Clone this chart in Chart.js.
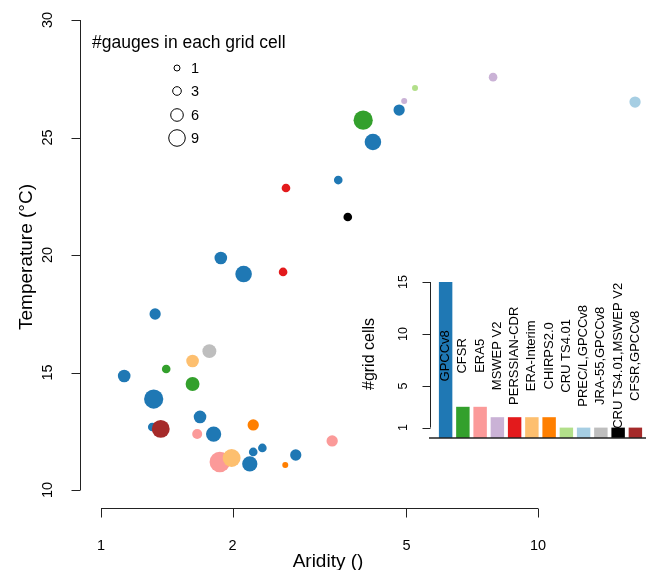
<!DOCTYPE html>
<html>
<head>
<meta charset="utf-8">
<script src="https://cdn.jsdelivr.net/npm/chart.js@4.4.1/dist/chart.umd.min.js"></script>
<style>
  body { margin: 0; background: #fff; }
  #wrap { position: relative; width: 646px; height: 570px; }
  #wrap canvas { position: absolute; left: 0; top: 0; }
</style>
</head>
<body>
<div id="wrap">
  <canvas id="main" width="646" height="570"></canvas>
  <canvas id="inset" width="646" height="570"></canvas>
</div>
<script>
// products, in the order of the inset bars
var products = ["GPCCv8", "CFSR", "ERA5", "MSWEP V2", "PERSSIAN-CDR", "ERA-Interim", "CHIRPS2.0",
  "CRU TS4.01", "PREC/L,GPCCv8", "JRA-55,GPCCv8", "CRU TS4.01,MSWEP V2", "CFSR,GPCCv8"];
var productColors = ["#1F78B4", "#33A02C", "#FB9A99", "#CAB2D6", "#E31A1C", "#FDBF6F", "#FF7F00",
  "#B2DF8A", "#A6CEE3", "#BEBEBE", "#000000", "#A52A2A"];

// one entry per grid cell
var aridity = [4.81, 4.19, 3.49, 1.88, 2.12, 1.33, 1.13, 1.32, 1.685, 1.31, 1.81, 2.23, 2.34, 2.19, 2.79,
  3.98, 1.41, 1.62,
  1.66, 1.87, 3.38,
  7.89, 4.94,
  2.65, 2.61,
  1.62, 1.99,
  2.23, 2.64,
  5.23, 16.67, 1.77, 3.67, 1.37];
var temperature = [26.17, 24.81, 23.19, 19.87, 19.19, 17.49, 14.85, 13.87, 13.11, 12.68, 12.38, 11.62, 11.79, 11.11, 11.49,
  25.74, 15.15, 14.51,
  12.38, 11.19, 12.09,
  27.57, 26.55,
  22.85, 19.28,
  15.49, 11.36,
  12.77, 11.06,
  27.11, 26.51, 15.91, 21.62, 12.6];
var gauges = [5, 9, 3, 6, 9, 5, 6, 11, 6, 3, 8, 3, 3, 8, 5,
  11, 3, 7,
  4, 12, 5,
  3, 1,
  3, 3,
  6, 10,
  5, 1,
  1, 5, 7, 3, 10];
var bestProduct = ["GPCCv8", "GPCCv8", "GPCCv8", "GPCCv8", "GPCCv8", "GPCCv8", "GPCCv8", "GPCCv8", "GPCCv8",
  "GPCCv8", "GPCCv8", "GPCCv8", "GPCCv8", "GPCCv8", "GPCCv8",
  "CFSR", "CFSR", "CFSR",
  "ERA5", "ERA5", "ERA5",
  "MSWEP V2", "MSWEP V2",
  "PERSSIAN-CDR", "PERSSIAN-CDR",
  "ERA-Interim", "ERA-Interim",
  "CHIRPS2.0", "CHIRPS2.0",
  "CRU TS4.01", "PREC/L,GPCCv8", "JRA-55,GPCCv8", "CRU TS4.01,MSWEP V2", "CFSR,GPCCv8"];

var xTicks = [1, 2, 5, 10];
var yTicks = [10, 15, 20, 25, 30];
var legendGauges = [1, 3, 6, 9];
var cellTicks = [1, 5, 10, 15];

var FONT = "'Liberation Sans', Arial, sans-serif";

function gaugeRadius(n) {
  return 2.34 + 0.66 * n;
}
function colorOf(name) {
  return productColors[products.indexOf(name)];
}

var cellCounts = products.map(function (p) {
  return bestProduct.filter(function (b) { return b === p; }).length;
});

var points = [];
for (var i = 0; i < aridity.length; i++) {
  points.push({ x: aridity[i], y: temperature[i] });
}

function useTicks(list) {
  return function (scale) {
    scale.ticks = list.map(function (v) { return { value: v }; });
  };
}

function tickValues(scale, fallback) {
  return (scale.ticks && scale.ticks.length ? scale.ticks : fallback.map(function (v) { return { value: v }; }))
    .map(function (t) { return t.value; });
}

function rotatedText(ctx, text, x, y) {
  ctx.save();
  ctx.translate(x, y);
  ctx.rotate(-Math.PI / 2);
  ctx.fillText(text, 0, 0);
  ctx.restore();
}

// base-R style axes + size legend
var mainDecor = {
  id: "mainDecor",
  afterDraw: function (chart) {
    var ctx = chart.ctx;
    var xs = chart.scales.x, ys = chart.scales.y;
    var area = chart.chartArea;
    ctx.save();
    ctx.strokeStyle = "#222";
    ctx.fillStyle = "#000";
    ctx.lineWidth = 1;

    // x axis
    var xv = tickValues(xs, xTicks);
    var ax = area.bottom + 0.5;
    ctx.beginPath();
    ctx.moveTo(xs.getPixelForValue(xv[0]), ax);
    ctx.lineTo(xs.getPixelForValue(xv[xv.length - 1]), ax);
    xv.forEach(function (v) {
      var px = Math.round(xs.getPixelForValue(v)) + 0.5;
      ctx.moveTo(px, ax);
      ctx.lineTo(px, ax + 9);
    });
    ctx.stroke();
    ctx.font = "14.5px " + FONT;
    ctx.textAlign = "center";
    ctx.textBaseline = "middle";
    xv.forEach(function (v) {
      ctx.fillText(String(v), xs.getPixelForValue(v), ax + 37);
    });
    ctx.font = "19px " + FONT;
    ctx.fillText("Aridity ()", 328, ax + 53);

    // y axis
    var yv = tickValues(ys, yTicks);
    var ay = area.left + 0.5;
    ctx.beginPath();
    ctx.moveTo(ay, ys.getPixelForValue(yv[0]));
    ctx.lineTo(ay, ys.getPixelForValue(yv[yv.length - 1]));
    yv.forEach(function (v) {
      var py = Math.round(ys.getPixelForValue(v)) + 0.5;
      ctx.moveTo(ay, py);
      ctx.lineTo(ay - 9, py);
    });
    ctx.stroke();
    ctx.font = "14.5px " + FONT;
    yv.forEach(function (v) {
      rotatedText(ctx, String(v), ay - 33, ys.getPixelForValue(v));
    });
    ctx.font = "19px " + FONT;
    rotatedText(ctx, "Temperature (\u00B0C)", 27, 257);

    // size legend
    ctx.textAlign = "left";
    ctx.font = "17.5px " + FONT;
    ctx.fillText("#gauges in each grid cell", 92, 43);
    ctx.font = "14.5px " + FONT;
    var ly = [68, 91, 115, 138];
    legendGauges.forEach(function (g, k) {
      ctx.beginPath();
      ctx.arc(177, ly[k], gaugeRadius(g), 0, Math.PI * 2);
      ctx.strokeStyle = "#000";
      ctx.stroke();
      ctx.fillText(String(g), 191, ly[k] + 1);
    });
    ctx.restore();
  }
};

new Chart(document.getElementById("main"), {
  type: "scatter",
  data: {
    datasets: [{
      data: points,
      pointRadius: function (c) { return gaugeRadius(gauges[c.dataIndex]); },
      pointBackgroundColor: function (c) { return colorOf(bestProduct[c.dataIndex]); },
      pointBorderWidth: 0,
      clip: false
    }]
  },
  plugins: [mainDecor],
  options: {
    responsive: false,
    animation: false,
    events: [],
    layout: { autoPadding: false, padding: { left: 80, top: 1, right: 0, bottom: 62 } },
    plugins: { legend: { display: false }, tooltip: { enabled: false } },
    scales: {
      x: { type: "logarithmic", display: false, min: 0.8953, max: 17.66, afterBuildTicks: useTicks(xTicks) },
      y: { type: "linear", display: false, min: 9.234, max: 30.81, afterBuildTicks: useTicks(yTicks) }
    }
  }
});

// inset bar chart axes and labels
var insetDecor = {
  id: "insetDecor",
  afterDraw: function (chart) {
    var ctx = chart.ctx;
    var xs = chart.scales.x, ys = chart.scales.y;
    var area = chart.chartArea;
    ctx.save();
    ctx.strokeStyle = "#222";
    ctx.fillStyle = "#000";

    // baseline
    ctx.lineWidth = 1.5;
    ctx.beginPath();
    ctx.moveTo(429, ys.getPixelForValue(0));
    ctx.lineTo(646, ys.getPixelForValue(0));
    ctx.stroke();

    // y axis
    var yv = tickValues(ys, cellTicks);
    var ax = area.left - 6.5;
    ctx.lineWidth = 1;
    ctx.beginPath();
    ctx.moveTo(ax, ys.getPixelForValue(yv[0]));
    ctx.lineTo(ax, ys.getPixelForValue(yv[yv.length - 1]));
    yv.forEach(function (v) {
      var py = Math.round(ys.getPixelForValue(v)) + 0.5;
      ctx.moveTo(ax, py);
      ctx.lineTo(ax - 8, py);
    });
    ctx.stroke();
    ctx.textAlign = "center";
    ctx.textBaseline = "middle";
    ctx.font = "12.5px " + FONT;
    yv.forEach(function (v) {
      rotatedText(ctx, String(v), ax - 27, ys.getPixelForValue(v));
    });
    ctx.font = "16px " + FONT;
    rotatedText(ctx, "#grid cells", 370, 354);

    // bar names
    ctx.font = "13px " + FONT;
    products.forEach(function (p, k) {
      rotatedText(ctx, p, xs.getPixelForValue(k), ys.getPixelForValue(7.9));
    });
    ctx.restore();
  }
};

new Chart(document.getElementById("inset"), {
  type: "bar",
  data: {
    labels: products,
    datasets: [{
      data: cellCounts,
      backgroundColor: productColors,
      borderWidth: 0,
      barPercentage: 0.78,
      categoryPercentage: 1
    }]
  },
  plugins: [insetDecor],
  options: {
    responsive: false,
    animation: false,
    events: [],
    layout: { autoPadding: false, padding: { left: 437, top: 282, right: 2, bottom: 132 } },
    plugins: { legend: { display: false }, tooltip: { enabled: false } },
    scales: {
      x: { type: "category", display: false, offset: true },
      y: { type: "linear", display: false, min: 0, max: 15, afterBuildTicks: useTicks(cellTicks) }
    }
  }
});
</script>
</body>
</html>
